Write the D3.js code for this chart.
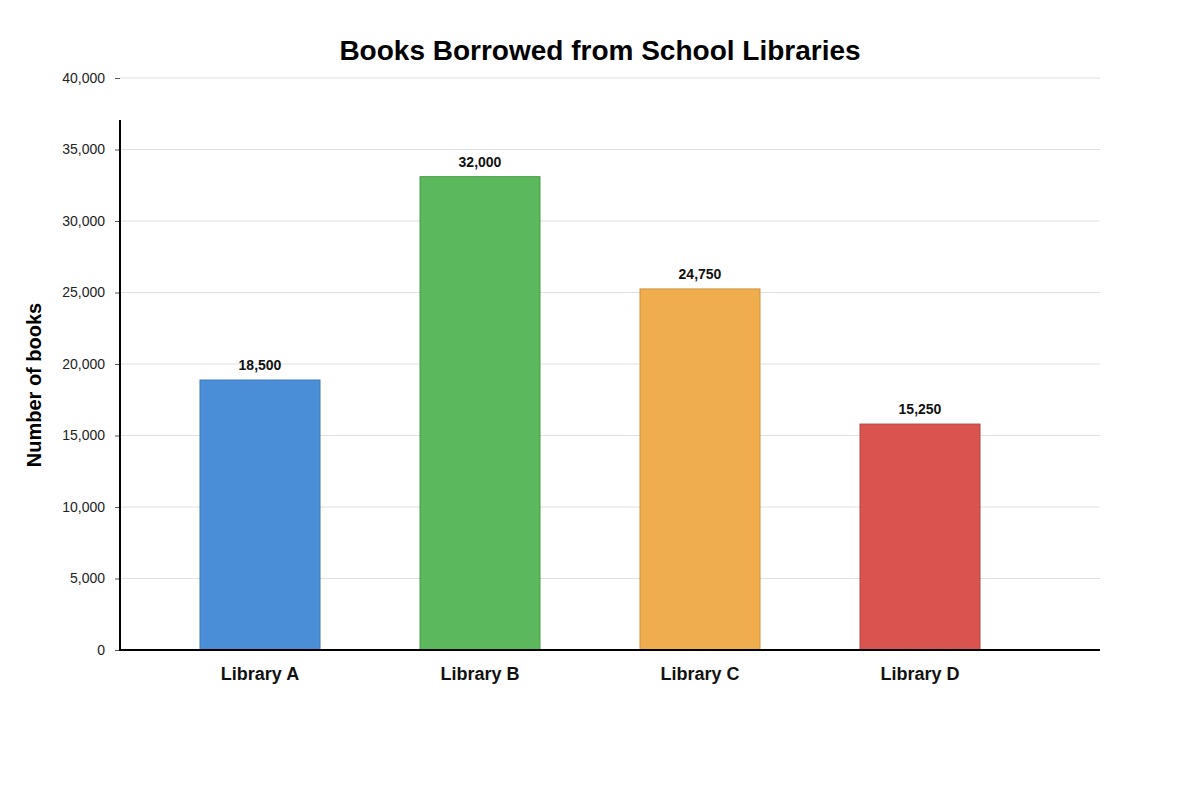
<!DOCTYPE html>
<html>
<head>
<meta charset="utf-8">
<script src="https://cdn.jsdelivr.net/npm/d3@7"></script>
<style>
    body { margin: 0; background: #fff; }
    svg text { font-family: "Liberation Sans", Arial, sans-serif; }
</style>
</head>
<body>
<svg id="chart" width="1200" height="800"></svg>
<script>
// - - - - - - - - - -
// data
// - - - - - - - - - -
const libraries = ['Library A', 'Library B', 'Library C', 'Library D'];
// bar heights as drawn in the picture
const barValues = [18880, 33100, 25250, 15800];
// labels printed on top of the bars
const labelValues = [18500, 32000, 24750, 15250];
const yTicks = [0, 5000, 10000, 15000, 20000, 25000, 30000, 35000, 40000];
const colors = ['#4a8ed8', '#5cb85c', '#f0ad4e', '#d9534f'];
const strokes = ['#3b77b8', '#4a9a4a', '#cf9240', '#b8443f'];

// - - - - - - - - - -
const svg = d3.select('#chart');
const plotLeft = 120, plotRight = 1100, plotTop = 78, plotBottom = 650;

const x = d3.scaleBand()
    .domain(libraries)
    .range([150, 1030])
    .paddingInner(100 / 220)
    .paddingOuter(50 / 220);

const y = d3.scaleLinear()
    .domain([0, 40000])
    .range([plotBottom, plotTop]);

const fmt = d3.format(',');

// gridlines
svg.append('g')
    .selectAll('line')
    .data(yTicks.filter(d => d > 0))
    .join('line')
    .attr('x1', plotLeft)
    .attr('x2', plotRight)
    .attr('y1', d => y(d))
    .attr('y2', d => y(d))
    .attr('stroke', '#e0e0e0')
    .attr('stroke-width', 1);

// y axis ticks + labels
const yAxis = svg.append('g')
    .attr('transform', `translate(${plotLeft},0)`)
    .call(d3.axisLeft(y).tickValues(yTicks).tickFormat(fmt).tickSize(5).tickPadding(10));
yAxis.select('.domain').remove();
yAxis.selectAll('.tick line').attr('stroke', '#555');
yAxis.selectAll('.tick text')
    .attr('fill', '#222')
    .style('font-size', '14px')
    .style('font-family', '"Liberation Sans", Arial, sans-serif');

// bars
svg.append('g')
    .selectAll('rect')
    .data(libraries)
    .join('rect')
    .attr('x', d => x(d))
    .attr('y', (d, i) => y(barValues[i]))
    .attr('width', x.bandwidth())
    .attr('height', (d, i) => plotBottom - y(barValues[i]))
    .attr('fill', (d, i) => colors[i])
    .attr('stroke', (d, i) => strokes[i])
    .attr('stroke-width', 1);

// value labels
svg.append('g')
    .selectAll('text')
    .data(libraries)
    .join('text')
    .attr('x', d => x(d) + x.bandwidth() / 2)
    .attr('y', (d, i) => y(barValues[i]) - 10)
    .attr('text-anchor', 'middle')
    .attr('font-size', 14)
    .attr('font-weight', 'bold')
    .attr('fill', '#111')
    .text((d, i) => fmt(labelValues[i]));

// axis lines
svg.append('line')
    .attr('x1', plotLeft).attr('x2', plotLeft)
    .attr('y1', 120).attr('y2', plotBottom + 1)
    .attr('stroke', '#000').attr('stroke-width', 2);
svg.append('line')
    .attr('x1', plotLeft).attr('x2', plotRight)
    .attr('y1', plotBottom).attr('y2', plotBottom)
    .attr('stroke', '#000').attr('stroke-width', 2);

// x labels
svg.append('g')
    .selectAll('text')
    .data(libraries)
    .join('text')
    .attr('x', d => x(d) + x.bandwidth() / 2)
    .attr('y', 680)
    .attr('text-anchor', 'middle')
    .attr('font-size', 18)
    .attr('font-weight', 'bold')
    .attr('fill', '#111')
    .text(d => d);

// title
svg.append('text')
    .attr('x', 600)
    .attr('y', 60)
    .attr('text-anchor', 'middle')
    .attr('font-size', 28)
    .attr('font-weight', 'bold')
    .attr('fill', '#000')
    .text('Books Borrowed from School Libraries');

// y title
svg.append('text')
    .attr('transform', 'translate(41,385) rotate(-90)')
    .attr('text-anchor', 'middle')
    .attr('font-size', 20)
    .attr('font-weight', 'bold')
    .attr('fill', '#000')
    .text('Number of books');
</script>
</body>
</html>
